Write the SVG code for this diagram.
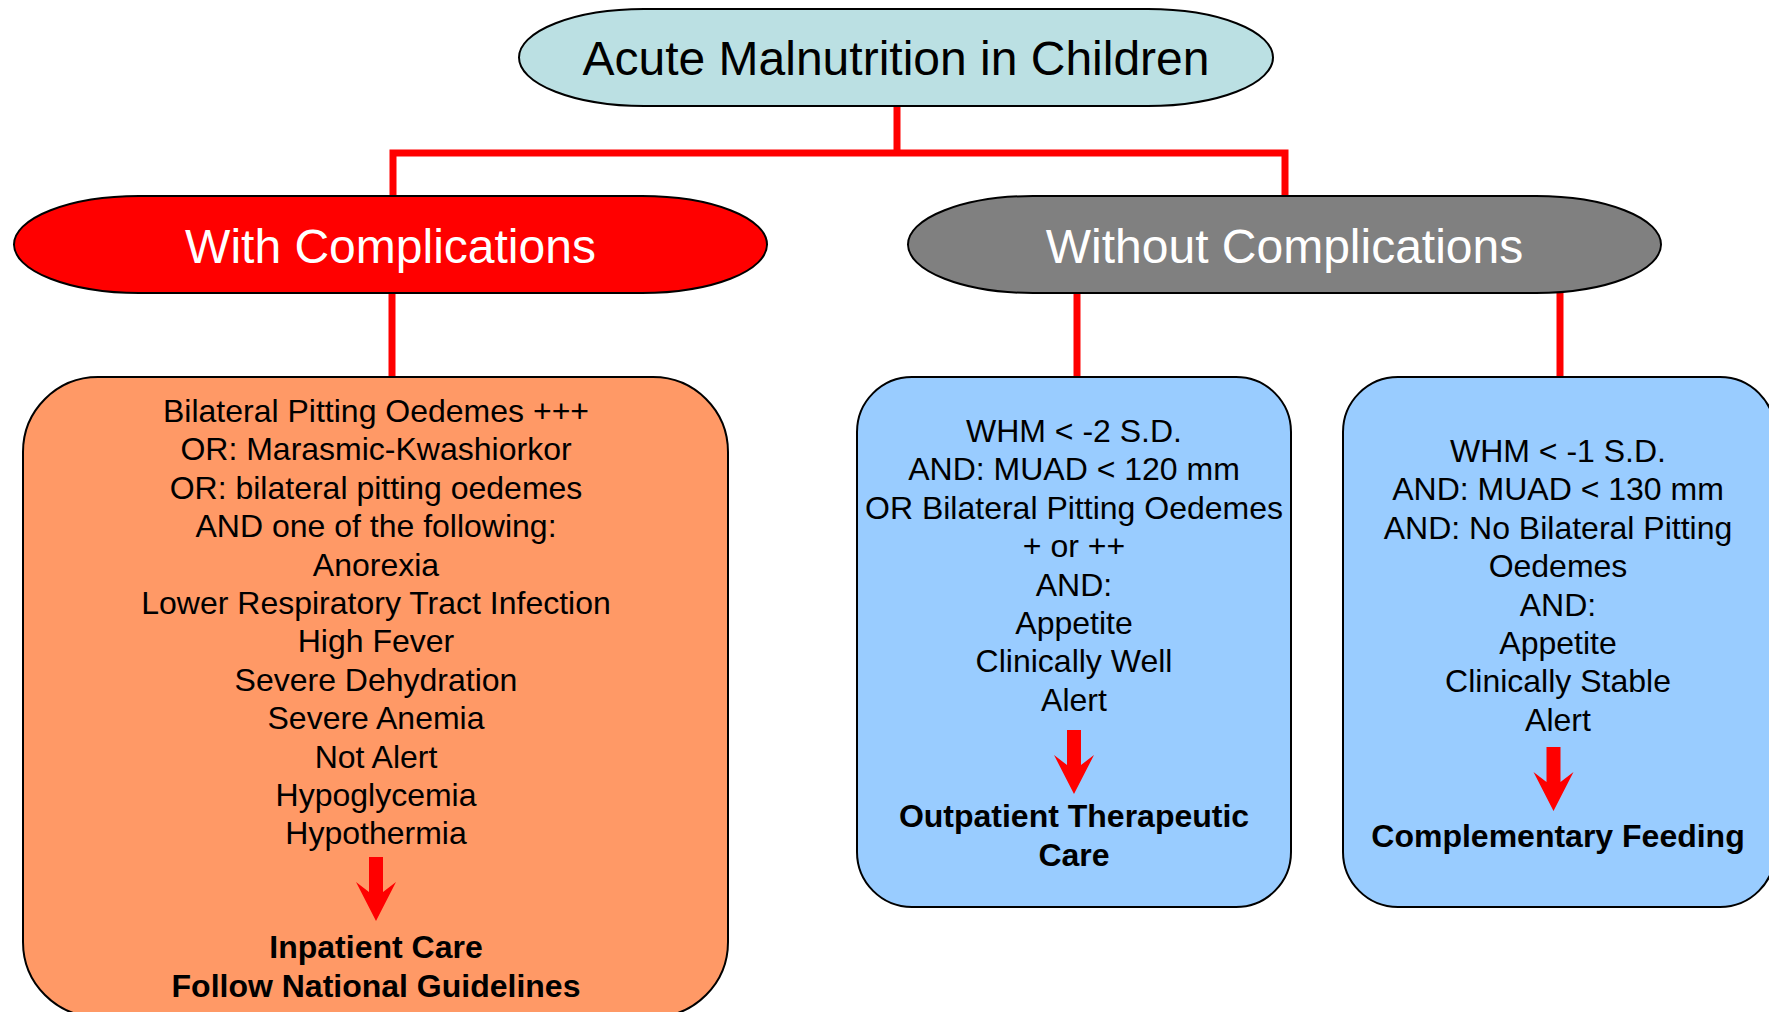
<svg xmlns="http://www.w3.org/2000/svg" xmlns:xlink="http://www.w3.org/1999/xlink" width="1769" height="1012" viewBox="0 0 1769 1012">
<style>
.conn{stroke:#FF0000;stroke-width:7;fill:none;stroke-linecap:butt}
.node{stroke:#000000;stroke-width:2}
.title{font-family:"Liberation Sans",Arial,sans-serif;font-size:48px;text-anchor:middle}
.body{font-family:"Liberation Sans",Arial,sans-serif;font-size:32px;text-anchor:middle;fill:#000000}
.bold{font-weight:bold}
</style>
<defs>
<path id="arrow" d="M-7,0 H7 V35 L20,25 L0,64 L-20,25 L-7,35 Z" fill="#FF0000"/>
</defs>
<rect width="1769" height="1012" fill="#FFFFFF"/>
<g id="connectors">
<line class="conn" x1="897" y1="106" x2="897" y2="153"/>
<polyline class="conn" points="393,196 393,153 1285,153 1285,196"/>
<line class="conn" x1="392" y1="293" x2="392" y2="377"/>
<line class="conn" x1="1077" y1="293" x2="1077" y2="377"/>
<line class="conn" x1="1560" y1="293" x2="1560" y2="377"/>
</g>
<g id="node-root">
<rect class="node" x="519" y="9" width="754" height="97" rx="125" ry="48.5" fill="#BBE0E3"/>
<text class="title" x="896" y="75" fill="#000000">Acute Malnutrition in Children</text>
</g>
<g id="node-with">
<rect class="node" x="14" y="196" width="753" height="97" rx="125" ry="48.5" fill="#FF0000"/>
<text class="title" x="390.5" y="263" fill="#FFFFFF">With Complications</text>
</g>
<g id="node-without">
<rect class="node" x="908" y="196" width="753" height="97" rx="125" ry="48.5" fill="#808080"/>
<text class="title" x="1284.5" y="263" fill="#FFFFFF">Without Complications</text>
</g>
<g id="node-inpatient">
<rect class="node" x="23" y="377" width="705" height="640" rx="75" ry="75" fill="#FF9966"/>
<text class="body" x="376" y="422">Bilateral Pitting Oedemes +++</text>
<text class="body" x="376" y="460.4">OR: Marasmic-Kwashiorkor</text>
<text class="body" x="376" y="498.8">OR: bilateral pitting oedemes</text>
<text class="body" x="376" y="537.2">AND one of the following:</text>
<text class="body" x="376" y="575.6">Anorexia</text>
<text class="body" x="376" y="614">Lower Respiratory Tract Infection</text>
<text class="body" x="376" y="652.4">High Fever</text>
<text class="body" x="376" y="690.8">Severe Dehydration</text>
<text class="body" x="376" y="729.2">Severe Anemia</text>
<text class="body" x="376" y="767.6">Not Alert</text>
<text class="body" x="376" y="806">Hypoglycemia</text>
<text class="body" x="376" y="844.4">Hypothermia</text>
<use xlink:href="#arrow" transform="translate(376,857)"/>
<text class="body bold" x="376" y="958">Inpatient Care</text>
<text class="body bold" x="376" y="996.5">Follow National Guidelines</text>
</g>
<g id="node-outpatient">
<rect class="node" x="857" y="377" width="434" height="530" rx="55" ry="55" fill="#99CCFF"/>
<text class="body" x="1074" y="442">WHM &lt; -2 S.D.</text>
<text class="body" x="1074" y="480.4">AND: MUAD &lt; 120 mm</text>
<text class="body" x="1074" y="518.8">OR Bilateral Pitting Oedemes</text>
<text class="body" x="1074" y="557.2">+ or ++</text>
<text class="body" x="1074" y="595.6">AND:</text>
<text class="body" x="1074" y="634">Appetite</text>
<text class="body" x="1074" y="672.4">Clinically Well</text>
<text class="body" x="1074" y="710.8">Alert</text>
<use xlink:href="#arrow" transform="translate(1074,730)"/>
<text class="body bold" x="1074" y="827">Outpatient Therapeutic</text>
<text class="body bold" x="1074" y="865.5">Care</text>
</g>
<g id="node-complementary">
<rect class="node" x="1343" y="377" width="432" height="530" rx="55" ry="55" fill="#99CCFF"/>
<text class="body" x="1558" y="462">WHM &lt; -1 S.D.</text>
<text class="body" x="1558" y="500.4">AND: MUAD &lt; 130 mm</text>
<text class="body" x="1558" y="538.8">AND: No Bilateral Pitting</text>
<text class="body" x="1558" y="577.2">Oedemes</text>
<text class="body" x="1558" y="615.6">AND:</text>
<text class="body" x="1558" y="654">Appetite</text>
<text class="body" x="1558" y="692.4">Clinically Stable</text>
<text class="body" x="1558" y="730.8">Alert</text>
<use xlink:href="#arrow" transform="translate(1553.5,747)"/>
<text class="body bold" x="1558" y="847">Complementary Feeding</text>
</g>
</svg>
